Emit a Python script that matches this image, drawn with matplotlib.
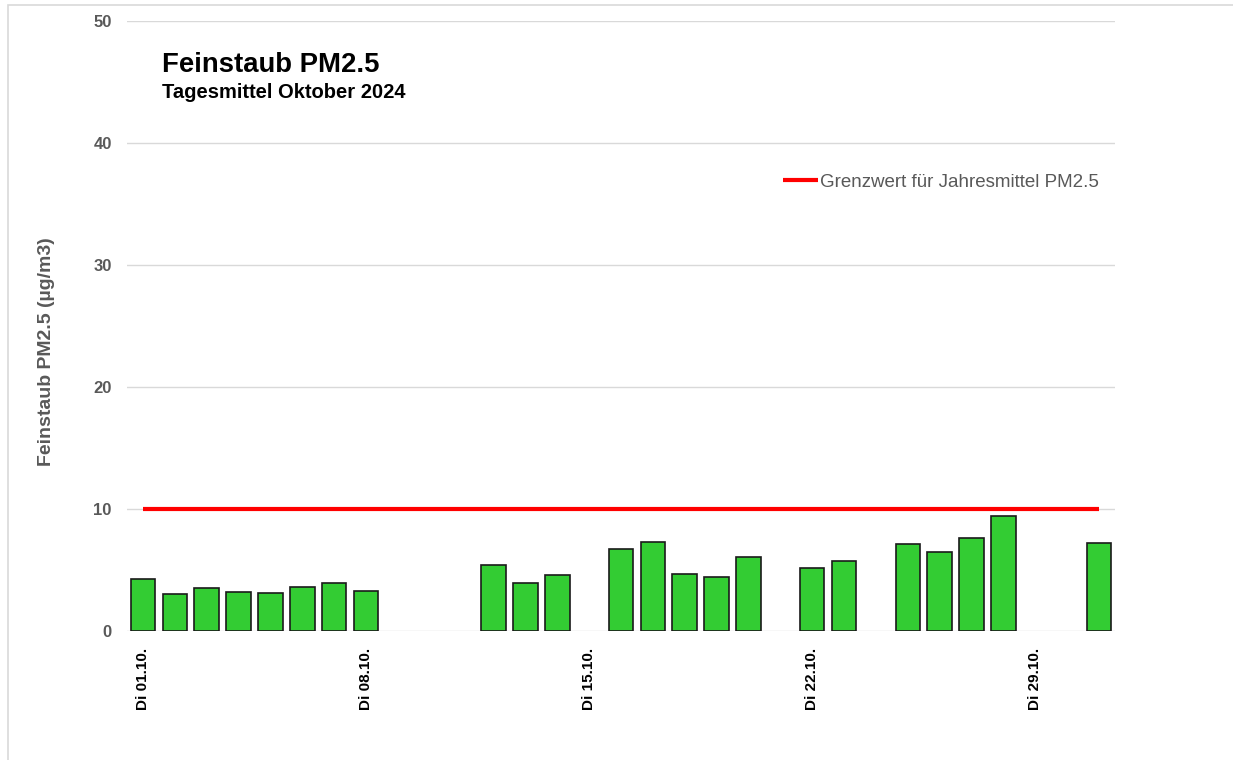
import matplotlib
matplotlib.use("Agg")
import matplotlib.pyplot as plt
from matplotlib.patches import Rectangle
import numpy as np

plt.rcParams['font.family'] = ['Liberation Sans', 'DejaVu Sans']

# ---- data ----
days = list(range(1, 32))
pm25 = [4.3, 3.0, 3.5, 3.2, 3.1, 3.6, 3.9, 3.3, None, None, None, 5.4, 3.9, 4.6, None,
        6.7, 7.3, 4.7, 4.4, 6.1, None, 5.2, 5.7, None, 7.1, 6.5, 7.6, 9.4, None, None, 7.2]
limit_value = 10
tick_days = [1, 8, 15, 22, 29]
tick_labels = ["Di 01.10.", "Di 08.10.", "Di 15.10.", "Di 22.10.", "Di 29.10."]
title = "Feinstaub PM2.5"
subtitle = "Tagesmittel Oktober 2024"
ylabel = "Feinstaub PM2.5 (µg/m3)"
legend_label = "Grenzwert für Jahresmittel PM2.5"

W, H = 1233, 760
fig = plt.figure(figsize=(W / 100, H / 100), dpi=100)
ax = fig.add_axes([127 / W, 1 - 631 / H, (1115 - 127) / W, (631 - 21) / H])

bx = [d for d, v in zip(days, pm25) if v is not None]
bv = [v for v in pm25 if v is not None]
ax.bar(bx, bv, width=0.77, color='#33cc33', edgecolor='#1a1a1a', linewidth=1.2, zorder=3)

ax.plot([days[0], days[-1]], [limit_value, limit_value], color='#ff0000', lw=3.0,
        solid_capstyle='butt', zorder=4, label=legend_label)

ax.set_xlim(0.5, 31.5)
ax.set_ylim(0, 50)
ax.set_yticks(range(0, 51, 10))
ax.yaxis.grid(True, color='#d9d9d9', lw=1.0, zorder=0)
ax.set_axisbelow(True)
for s in ax.spines.values():
    s.set_visible(False)
ax.tick_params(axis='y', length=0, pad=11, labelsize=12, labelcolor='#595959')
for t in ax.get_yticklabels():
    t.set_fontweight('bold')
ax.set_xticks(tick_days)
ax.set_xticklabels(tick_labels, rotation=90, fontsize=11, fontweight='bold', color='#000000')
ax.tick_params(axis='x', length=0, pad=12)

ax.set_ylabel(ylabel, fontsize=14, fontweight='bold', color='#595959', va='center')
ax.yaxis.set_label_coords((47 - 127) / 988, (631 - 352) / 610)

fig.text(162 / W, 1 - 65 / H, title, fontsize=19.8, fontweight='bold', va='center', ha='left')
fig.text(162 / W, 1 - 93 / H, subtitle, fontsize=14.5, fontweight='bold', va='center', ha='left')

leg = ax.legend(loc='center left', bbox_to_anchor=((783 - 127) / 988, (631 - 182) / 610),
                frameon=False, fontsize=13.5, handlelength=1.87, handletextpad=0.12,
                borderpad=0, borderaxespad=0)
for t in leg.get_texts():
    t.set_color('#595959')

fig.patches.append(Rectangle((8 / W, -0.1), 2, 1.1 - 5 / H, transform=fig.transFigure,
                             fill=False, edgecolor='#d9d9d9', lw=1.2))

fig.savefig("out.png", dpi=100)
